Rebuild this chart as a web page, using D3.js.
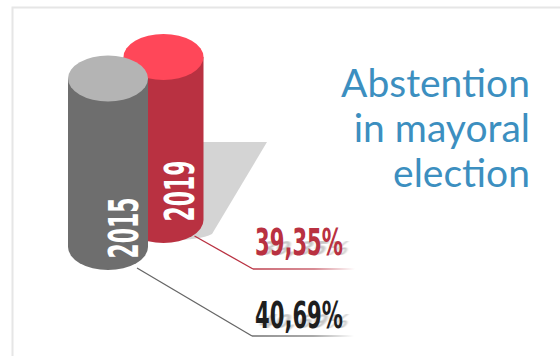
<!DOCTYPE html>
<html>
<head>
<meta charset="utf-8">
<title>Abstention in mayoral election</title>
<script src="https://cdn.jsdelivr.net/npm/d3@7/dist/d3.min.js"></script>
<style>
  html, body { margin: 0; padding: 0; background: #fff; }
  svg { display: block; }
</style>
</head>
<body>
<script>
// data
var years = ["2015", "2019"];
var values = [40.69, 39.35];
var valueLabels = ["40,69%", "39,35%"];
var titleLines = ["Abstention", "in mayoral", "election"];

var width = 560, height = 356;
var rx = 40, ry = 23;

var cx = d3.scalePoint().domain(years).range([108, 163.5]);
var base = d3.scalePoint().domain(years).range([247, 220]);
var h = d3.scaleLinear().domain([0, 40.69]).range([0, 168.5]);
var labelY = d3.scalePoint().domain(years).range([328, 255]);
var lineY = d3.scalePoint().domain(years).range([336, 269]);

var bodyCol = {"2015": "#6e6e6e", "2019": "#b93141"};
var topCol = {"2015": "#b4b4b4", "2019": "#ff4759"};
var textCol = {"2015": "#1e1e1e", "2019": "#b93141"};
var lineCol = {"2015": "#666", "2019": "#b93141"};

var svg = d3.select("body").append("svg")
    .attr("width", width)
    .attr("height", height);

var defs = svg.append("defs");
defs.append("filter").attr("id", "blur")
  .append("feGaussianBlur").attr("stdDeviation", 0.8);

years.forEach(function(y, i) {
  var g = defs.append("linearGradient").attr("id", "fade" + i)
      .attr("x1", "0%").attr("x2", "100%");
  g.append("stop").attr("offset", "0%").attr("stop-color", lineCol[y]);
  g.append("stop").attr("offset", "60%").attr("stop-color", lineCol[y]).attr("stop-opacity", 0.8);
  g.append("stop").attr("offset", "100%").attr("stop-color", lineCol[y]).attr("stop-opacity", 0);
});

// frame
svg.append("path")
    .attr("d", "M12.5," + height + "V7.5H" + width)
    .attr("fill", "none")
    .attr("stroke", "#e6e6e6")
    .attr("stroke-width", 2);

// shadow of the 2019 cylinder
svg.append("path")
    .attr("d", "M150,142H267L212,234Q200,240 170,240H150Z")
    .attr("fill", "#d4d4d4");

// leader lines
var order = years.slice().reverse(); // 2019 behind 2015
years.forEach(function(y, i) {
  var sx = cx(y) + (y === "2015" ? 29 : 31);
  var sy = base(y) + (y === "2015" ? 21 : 16);
  var ex = y === "2015" ? 252 : 253;
  svg.append("path")
      .attr("d", "M" + sx + "," + sy + "L" + ex + "," + lineY(y))
      .attr("stroke", lineCol[y])
      .attr("stroke-width", 1.3)
      .attr("fill", "none");
  svg.append("rect")
      .attr("x", ex).attr("y", lineY(y) - 0.7)
      .attr("width", 102).attr("height", 1.4)
      .attr("fill", "url(#fade" + i + ")");
});

// cylinders
var cyl = svg.selectAll("g.cyl")
    .data(order)
  .enter().append("g")
    .attr("class", "cyl");

cyl.append("path")
    .attr("d", function(y) {
      var i = years.indexOf(y);
      var x0 = cx(y) - rx, x1 = cx(y) + rx;
      var top = base(y) - h(values[i]);
      return "M" + x0 + "," + top + "V" + base(y) +
        "A" + rx + "," + ry + " 0 0 0 " + x1 + "," + base(y) +
        "V" + top + "Z";
    })
    .attr("fill", function(y) { return bodyCol[y]; });

cyl.append("ellipse")
    .attr("cx", function(y) { return cx(y); })
    .attr("cy", function(y) { return base(y) - h(values[years.indexOf(y)]); })
    .attr("rx", rx).attr("ry", ry)
    .attr("fill", function(y) { return topCol[y]; });

cyl.append("text")
    .attr("transform", function(y) {
      var ly = y === "2015" ? base(y) - 19 : base(y) - 29;
      return "translate(" + (cx(y) + 30) + "," + ly + ") rotate(-90)";
    })
    .attr("text-anchor", "middle")
    .attr("font-family", "DejaVu Sans")
    .attr("font-stretch", "condensed")
    .attr("font-weight", "bold")
    .attr("font-size", 41)
    .attr("textLength", 61)
    .attr("lengthAdjust", "spacingAndGlyphs")
    .attr("fill", "#fff")
    .text(function(y) { return y; });

// value labels
years.forEach(function(y, i) {
  svg.append("text")
      .attr("transform", "translate(257," + labelY(y) + ") skewX(-30) scale(1,0.5)")
      .attr("font-family", "DejaVu Sans")
      .attr("font-stretch", "condensed")
      .attr("font-weight", "bold")
      .attr("font-size", 37)
      .attr("textLength", 88)
      .attr("lengthAdjust", "spacingAndGlyphs")
      .attr("fill", "#c6c6c6")
      .attr("filter", "url(#blur)")
      .text(valueLabels[i]);
  svg.append("text")
      .attr("x", 255)
      .attr("y", labelY(y))
      .attr("font-family", "DejaVu Sans")
      .attr("font-stretch", "condensed")
      .attr("font-weight", "bold")
      .attr("font-size", 37)
      .attr("textLength", 88)
      .attr("lengthAdjust", "spacingAndGlyphs")
      .attr("fill", textCol[y])
      .text(valueLabels[i]);
});

// title
svg.append("g").selectAll("text")
    .data(titleLines)
  .enter().append("text")
    .attr("x", 530)
    .attr("y", function(d, i) { return 97 + i * 45; })
    .attr("text-anchor", "end")
    .attr("font-family", "Lato")
    .attr("font-size", 39)
    .attr("fill", "#3c8fc0")
    .text(function(d) { return d; });
</script>
</body>
</html>
